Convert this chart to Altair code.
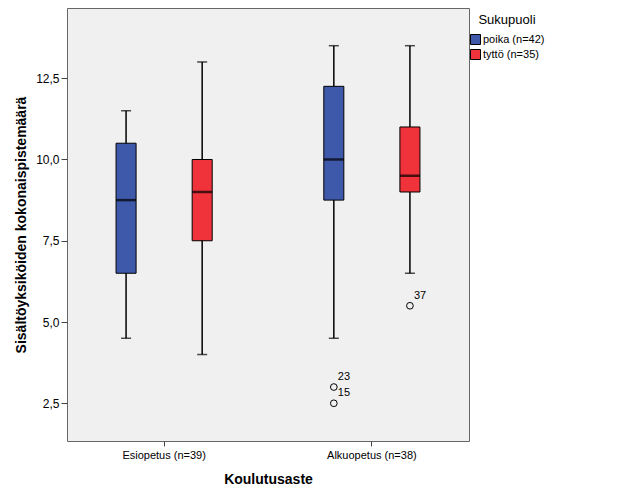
import altair as alt
import pandas as pd

# ---- data ----
cat_order = ["Esiopetus (n=39)", "Alkuopetus (n=38)"]
grp_order = ["poika (n=42)", "tyttö (n=35)"]

box_categories = ["Esiopetus (n=39)", "Esiopetus (n=39)", "Alkuopetus (n=38)", "Alkuopetus (n=38)"]
box_groups = ["poika (n=42)", "tyttö (n=35)", "poika (n=42)", "tyttö (n=35)"]
whisker_low = [4.5, 4.0, 4.5, 6.5]
q1 = [6.5, 7.5, 8.75, 9.0]
median = [8.75, 9.0, 10.0, 9.5]
q3 = [10.5, 10.0, 12.25, 11.0]
whisker_high = [11.5, 13.0, 13.5, 13.5]

outlier_categories = ["Alkuopetus (n=38)", "Alkuopetus (n=38)", "Alkuopetus (n=38)"]
outlier_groups = ["poika (n=42)", "poika (n=42)", "tyttö (n=35)"]
outlier_values = [3.0, 2.5, 5.5]
outlier_labels = ["23", "15", "37"]

y_ticks = [2.5, 5.0, 7.5, 10.0, 12.5]
colors = ["#3F59AA", "#F0333A"]

boxes = pd.DataFrame({
    "cat": box_categories, "grp": box_groups,
    "low": whisker_low, "q1": q1, "med": median, "q3": q3, "high": whisker_high,
})
outs = pd.DataFrame({
    "cat": outlier_categories, "grp": outlier_groups,
    "val": outlier_values, "lab": outlier_labels,
})

FONT = "Liberation Sans"

x_enc = alt.X(
    "cat:N",
    sort=cat_order,
    scale=alt.Scale(domain=cat_order, paddingInner=0.065, paddingOuter=0),
    axis=alt.Axis(
        title="Koulutusaste", labelAngle=0, labelFontSize=11, labelColor="#000000",
        titleFontSize=14, titleFontWeight="bold", titleColor="#000000",
        titlePadding=12, tickSize=5, tickColor="#444444", domain=False,
        labelPadding=3,
    ),
)
xoff_enc = alt.XOffset(
    "grp:N",
    sort=grp_order,
    scale=alt.Scale(domain=grp_order, paddingInner=0.7368, paddingOuter=0.6447),
)
y_scale = alt.Scale(domain=[1.34, 14.66], nice=False, zero=False)
y_axis = alt.Axis(
    title="Sisältöyksiköiden kokonaispistemäärä",
    values=y_ticks,
    labelExpr="replace(format(datum.value, '.1f'), '.', ',')",
    labelFontSize=12, labelColor="#000000",
    titleFontSize=14, titleFontWeight="bold", titleColor="#000000",
    titlePadding=7, tickSize=6, tickColor="#444444", domain=False, grid=False,
    labelPadding=2,
)

base = alt.Chart(boxes)

whisker = base.mark_rule(color="black", strokeWidth=1.5).encode(
    x=x_enc, xOffset=xoff_enc,
    y=alt.Y("low:Q", scale=y_scale, axis=y_axis),
    y2="high:Q",
)

caps_low = base.mark_tick(color="black", size=10, thickness=1.5, orient="horizontal").encode(
    x=x_enc, xOffset=xoff_enc, y=alt.Y("low:Q", scale=y_scale),
)
caps_high = base.mark_tick(color="black", size=10, thickness=1.5, orient="horizontal").encode(
    x=x_enc, xOffset=xoff_enc, y=alt.Y("high:Q", scale=y_scale),
)

box = base.mark_bar(stroke="black", strokeWidth=1).encode(
    x=x_enc, xOffset=xoff_enc,
    y=alt.Y("q1:Q", scale=y_scale),
    y2="q3:Q",
    color=alt.Color(
        "grp:N",
        scale=alt.Scale(domain=grp_order, range=colors),
        legend=alt.Legend(
            title="Sukupuoli", orient="none", legendX=403, legendY=6,
            symbolType="square", symbolSize=100, symbolStrokeColor="black",
            symbolStrokeWidth=1, symbolOpacity=1,
            titleFontSize=13, titleFontWeight="normal", titleColor="#000000",
            titleAnchor="middle",
            titlePadding=7, labelFontSize=11, labelColor="#000000",
            rowPadding=0, labelOffset=2, padding=0,
        ),
    ),
)

med = base.mark_tick(color="black", size=20, thickness=2.5, orient="horizontal").encode(
    x=x_enc, xOffset=xoff_enc, y=alt.Y("med:Q", scale=y_scale),
)

pts = alt.Chart(outs).mark_point(
    shape="circle", filled=False, color="black", size=45, strokeWidth=1, opacity=1
).encode(
    x=x_enc, xOffset=xoff_enc, y=alt.Y("val:Q", scale=y_scale),
)

labels = alt.Chart(outs).mark_text(
    align="left", baseline="middle", dx=4, dy=-10, fontSize=11, color="black"
).encode(
    x=x_enc, xOffset=xoff_enc, y=alt.Y("val:Q", scale=y_scale), text="lab:N",
)

chart = alt.layer(whisker, caps_low, caps_high, box, med, pts, labels).properties(
    width=402, height=433,
    padding={"left": 6, "top": 0, "right": 5, "bottom": 5},
).configure(
    font=FONT,
).configure_view(
    fill="#F0F0F0", stroke="#666666", strokeWidth=1,
)

chart.save("out.html", embed_options={"renderer": "svg", "actions": False})
